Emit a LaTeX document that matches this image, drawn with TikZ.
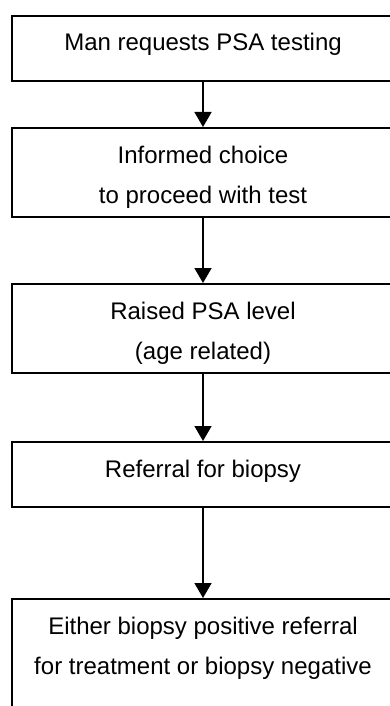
\documentclass[tikz,border=0pt]{standalone}
\usepackage{fontspec}
\setmainfont{Liberation Sans}
\usetikzlibrary{positioning,arrows.meta}
\newcommand{\stagetext}[2]{\parbox[c][#1][t]{189pt}{\centering
    \fontsize{12}{20}\selectfont\rule{0pt}{17.5pt}#2}}

\begin{document}
\begin{tikzpicture}[
        stage/.style={draw, line width=1pt, inner sep=0pt, minimum width=191pt},
        flow/.style={-{Triangle[width=8.5pt,length=7.5pt]}, line width=0.75pt}]
    \useasboundingbox (0,0) rectangle (195pt,-353pt);
    \clip (0,0) rectangle (195pt,-353pt);
    \node[stage, anchor=north west] (request) at (5.5pt,-7.5pt)
        {\stagetext{32.5pt}{Man requests PSA testing}};
    \node[stage, below=22.5pt of request] (choice)
        {\stagetext{44.5pt}{Informed choice\\to proceed with test}};
    \node[stage, below=32.5pt of choice] (raised)
        {\stagetext{44.5pt}{Raised PSA level\\(age related)}};
    \node[stage, below=33.5pt of raised] (referral)
        {\stagetext{32.5pt}{Referral for biopsy}};
    \node[stage, below=45pt of referral] (outcome)
        {\stagetext{70pt}{Either biopsy positive referral\\for treatment or biopsy negative}};
    \draw[flow] (request) -- (choice);
    \draw[flow] (choice) -- (raised);
    \draw[flow] (raised) -- (referral);
    \draw[flow] (referral) -- (outcome);
\end{tikzpicture}
\end{document}
